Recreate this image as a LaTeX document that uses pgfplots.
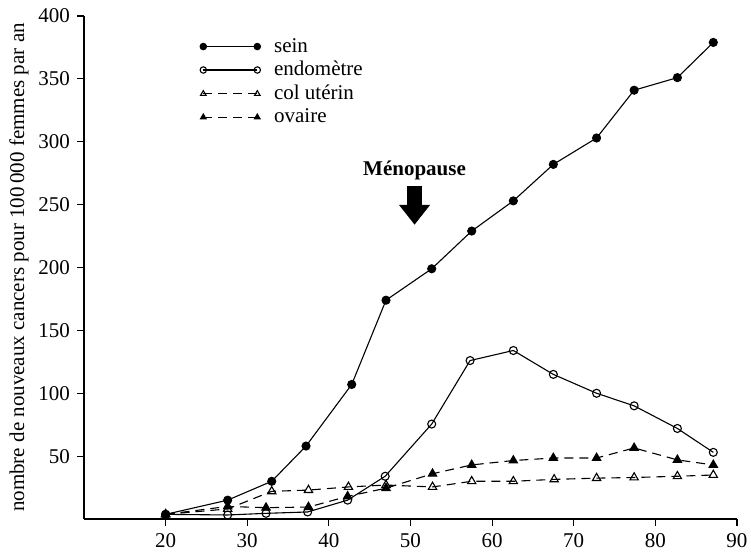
\documentclass[border=0pt]{standalone}
\usepackage{fontspec}
\setmainfont{Liberation Serif}
\usepackage{pgfplots}
\pgfplotsset{compat=1.18}
\usetikzlibrary{arrows.meta}

\pgfplotsset{
  serie/.style={black, line width=0.55pt},
  tiret/.style={black, line width=0.55pt, dash pattern=on 4.5pt off 3pt},
}

\begin{document}
\begin{tikzpicture}
\useasboundingbox (-42pt,-17.5pt) rectangle (333.5pt,259.5pt);
\begin{axis}[
    at={(0,0)}, anchor=south west,
    scale only axis,
    width=326.5pt, height=251.5pt,
    xmin=10, xmax=90, ymin=0, ymax=400,
    axis lines*=left,
    axis line style={line width=0.6pt},
    tick align=outside,
    major tick length=3.5pt,
    tick style={black, line width=0.6pt},
    xtick={20,30,...,90},
    ytick={50,100,...,400},
    /pgf/number format/assume math mode=true,
    /pgf/number format/1000 sep={},
    tick label style={font=\fontsize{10.5}{12}\selectfont},
    ylabel={nombre de nouveaux cancers pour 100\,000 femmes par an},
    ylabel style={font=\fontsize{10.5}{12}\selectfont, yshift=-2pt},
    legend style={draw=none, fill=none, at={(0.168,0.972)}, anchor=north west,
      font=\fontsize{10.5}{12}\selectfont, row sep=-0.5pt,
      nodes={inner sep=1.8pt},
      /tikz/every odd column/.append style={column sep=5pt}},
    legend cell align=left,
    legend image code/.code={\draw[#1, mark size=1.6pt] plot coordinates {(0pt,0pt) (27pt,0pt)};},
  ]
  \addplot[serie, mark=*, mark size=2pt] coordinates {
    (20,3.7) (27.6,15) (33,30) (37.2,58) (42.8,107) (47,174) (52.6,199)
    (57.5,229) (62.6,253) (67.5,282) (72.8,303) (77.4,341) (82.7,351) (87.1,379)};
  \addlegendentry{sein}
  \addplot[serie, mark=o, mark size=2pt, mark options={fill=white}] coordinates {
    (20,3.7) (27.6,3.2) (32.3,4.5) (37.4,5.6) (42.3,15) (46.9,34) (52.6,75.5)
    (57.3,126) (62.6,134) (67.5,115) (72.8,100) (77.4,90) (82.7,72) (87.1,53)};
  \addlegendentry{endomètre}
  \addplot[tiret, mark=triangle, mark size=2.4pt, mark options={solid, fill=white}] coordinates {
    (20,3.7) (27.6,8) (33,22) (37.5,23) (42.4,25.5) (47,27) (52.7,25.5)
    (57.5,30) (62.6,30) (67.6,31.5) (72.8,32.5) (77.4,33) (82.7,34) (87.1,35)};
  \addlegendentry{col utérin}
  \addplot[tiret, mark=triangle*, mark size=2.4pt, mark options={solid}] coordinates {
    (20,3.7) (27.6,10) (32.3,9) (37.5,9.5) (42.3,18) (47,24.5) (52.7,36)
    (57.5,43) (62.6,46.5) (67.5,48.5) (72.8,48.5) (77.4,56.5) (82.7,47) (87.1,43)};
  \addlegendentry{ovaire}

  \node[font=\bfseries\fontsize{10.5}{12}\selectfont] at (axis cs:50.5,277) {Ménopause};
  \draw[black, line width=7.5pt, -{Triangle[width=15pt,length=10pt]}]
    (axis cs:50.5,265) -- (axis cs:50.5,234);
\end{axis}
\end{tikzpicture}
\end{document}
